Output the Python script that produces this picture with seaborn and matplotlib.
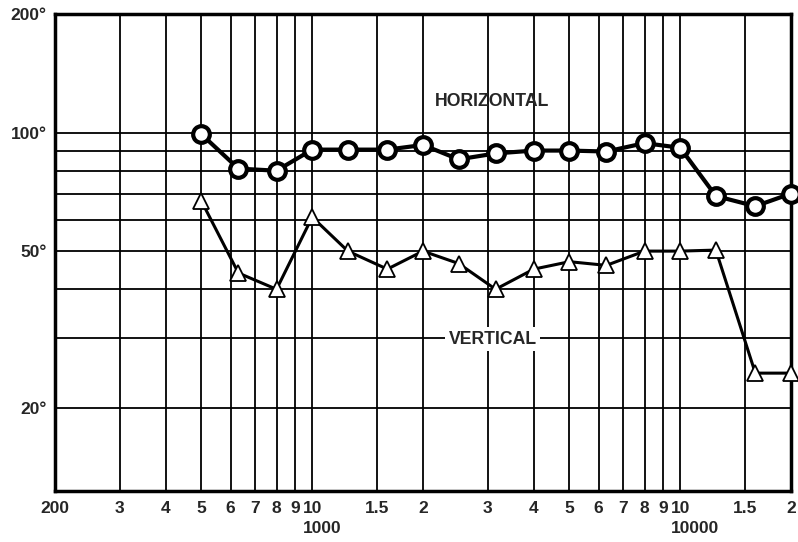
import numpy as np
import pandas as pd
import matplotlib
matplotlib.use('Agg')
import matplotlib.pyplot as plt
import matplotlib.ticker as mticker
import seaborn as sns

# data (frequency in Hz, dispersion angle in degrees)
freq = [500, 630, 800, 1000, 1250, 1600, 2000, 2500, 3150, 4000, 5000, 6300, 8000, 10000, 12500, 16000, 20000]
horizontal = [99, 81, 80, 90.5, 90.5, 90.5, 93, 85.5, 88.5, 90, 90, 89.5, 94, 91.5, 69, 65, 70]
vertical = [67, 44, 40, 61, 50, 45, 50, 46.5, 40, 45, 47, 46, 50, 50, 50.3, 24.5, 24.5]

x_grid = [200, 300, 400, 500, 600, 700, 800, 900, 1000, 1500, 2000, 3000, 4000, 5000,
          6000, 7000, 8000, 9000, 10000, 15000, 20000]
x_labels = ['200', '3', '4', '5', '6', '7', '8', '9', '10', '1.5', '2', '3', '4', '5',
            '6', '7', '8', '9', '10', '1.5', '2']
decades = [1000, 10000]
y_grid = [20, 30, 40, 50, 60, 70, 80, 90, 100, 200]
y_labels = ['20°', '', '', '50°', '', '', '', '', '100°', '200°']

sns.set_style('white')
plt.rcParams['font.family'] = ['Liberation Sans', 'DejaVu Sans']
plt.rcParams['font.weight'] = 'bold'

fig = plt.figure(figsize=(7.98, 5.42), dpi=100)
ax = fig.add_axes([0.0689, 0.0941, 0.9223, 0.8801])

df_h = pd.DataFrame({'freq': freq, 'angle': horizontal})
df_v = pd.DataFrame({'freq': freq, 'angle': vertical})

sns.lineplot(data=df_h, x='freq', y='angle', ax=ax, color='black', lw=3,
             marker='o', markersize=12, markerfacecolor='white',
             markeredgecolor='black', markeredgewidth=3, zorder=5, clip_on=False)
sns.lineplot(data=df_v, x='freq', y='angle', ax=ax, color='black', lw=2.2,
             marker='^', markersize=12, markerfacecolor='white',
             markeredgecolor='black', markeredgewidth=1.3, zorder=5, clip_on=False)

ax.set_xscale('log')
ax.set_yscale('log')
ax.set_xlim(200, 20000)
ax.set_ylim(12.3, 200)

ax.xaxis.set_major_locator(mticker.FixedLocator(x_grid))
ax.xaxis.set_minor_locator(mticker.NullLocator())
ax.set_xticklabels(x_labels)
ax.yaxis.set_major_locator(mticker.FixedLocator(y_grid))
ax.yaxis.set_minor_locator(mticker.NullLocator())
ax.set_yticklabels(y_labels)

ax.tick_params(axis='both', length=0, labelsize=12.5)
ax.tick_params(axis='x', pad=7)
ax.tick_params(axis='y', pad=6)
for lab in ax.get_xticklabels() + ax.get_yticklabels():
    lab.set_fontweight('bold')

# decade names under the "10" labels
for d in decades:
    ax.annotate(str(d), xy=(d, 0), xycoords=('data', 'axes fraction'),
                xytext=(-6.5, -27), textcoords='offset points',
                ha='left', va='center', fontsize=12.5, fontweight='bold',
                annotation_clip=False)

ax.grid(True, color='black', lw=1.3)
ax.set_axisbelow(True)
for s in ax.spines.values():
    s.set_color('black')
    s.set_linewidth(2.5)

ax.set_xlabel('')
ax.set_ylabel('')

ax.text(3090, 120, 'HORIZONTAL', ha='center', va='center', fontsize=12.7, fontweight='bold', zorder=6)
ax.text(3090, 29.9, 'VERTICAL', ha='center', va='center', fontsize=12.7, fontweight='bold', zorder=6,
        bbox=dict(facecolor='white', edgecolor='none', pad=2.5))

plt.savefig('out.png', dpi=100)
